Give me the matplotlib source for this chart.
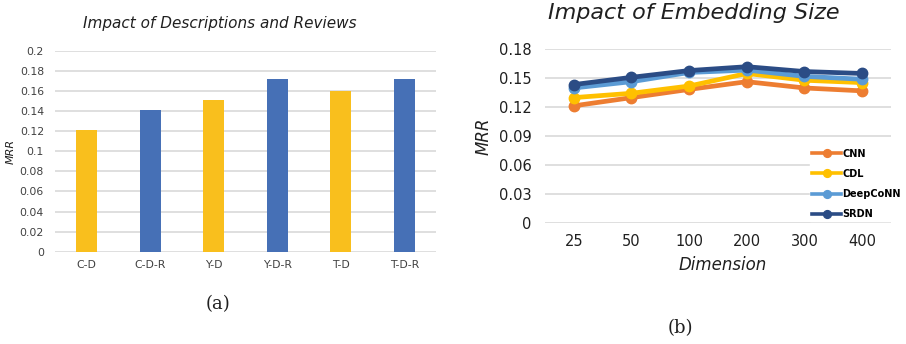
import matplotlib
matplotlib.use("Agg")
import matplotlib.pyplot as plt

# Panel (a): MRR for description / review variants
variants = ["C-D", "C-D-R", "Y-D", "Y-D-R", "T-D", "T-D-R"]
variant_mrr = [0.121, 0.141, 0.151, 0.172, 0.160, 0.172]
variant_uses_reviews = [False, True, False, True, False, True]
bar_yticks = [0, 0.02, 0.04, 0.06, 0.08, 0.1, 0.12, 0.14, 0.16, 0.18, 0.2]
bar_ytick_labels = ["0", "0.02", "0.04", "0.06", "0.08", "0.1", "0.12", "0.14", "0.16", "0.18", "0.2"]

# Panel (b): MRR vs embedding dimension
dimensions = ["25", "50", "100", "200", "300", "400"]
cnn = [0.1215, 0.130, 0.1385, 0.1465, 0.140, 0.137]
cdl = [0.130, 0.1345, 0.142, 0.155, 0.148, 0.1455]
deepconn = [0.140, 0.1465, 0.156, 0.1585, 0.152, 0.149]
srdn = [0.1435, 0.151, 0.158, 0.162, 0.157, 0.155]
line_yticks = [0, 0.03, 0.06, 0.09, 0.12, 0.15, 0.18]
line_ytick_labels = ["0", "0.03", "0.06", "0.09", "0.12", "0.15", "0.18"]

YELLOW = "#F9BF1D"
BLUE = "#4670B6"
GRID = "#D9D9D9"
TICK = "#404040"

fig = plt.figure(figsize=(9.06, 3.44), dpi=100)

# ---- (a) bar chart ----
ax1 = fig.add_axes([0.0607, 0.2683, 0.4205, 0.5843])
xs = range(len(variants))
colors = [BLUE if r else YELLOW for r in variant_uses_reviews]
ax1.bar(xs, variant_mrr, width=0.33, color=colors, zorder=3)
ax1.set_xlim(-0.5, len(variants) - 0.5)
ax1.set_ylim(0, 0.2)
ax1.set_yticks(bar_yticks)
ax1.set_yticklabels(bar_ytick_labels)
ax1.set_xticks(list(xs))
ax1.set_xticklabels(variants)
ax1.tick_params(axis="both", length=0, labelsize=7.8, labelcolor=TICK)
ax1.tick_params(axis="y", pad=8)
ax1.tick_params(axis="x", pad=6)
ax1.grid(axis="y", color=GRID, linewidth=1.2, zorder=0)
for s in ax1.spines.values():
    s.set_visible(False)
ax1.set_ylabel("MRR", fontsize=8, style="italic", color="#202020", labelpad=3)
ax1.set_title("Impact of Descriptions and Reviews", fontsize=11, style="italic",
              color="#202020", pad=16, x=0.432)

# ---- (b) line chart ----
ax2 = fig.add_axes([0.6015, 0.3509, 0.3819, 0.5058])
xi = list(range(len(dimensions)))
series = [
    ("CNN", cnn, "#ED7D31"),
    ("CDL", cdl, "#FFC000"),
    ("DeepCoNN", deepconn, "#5B9BD5"),
    ("SRDN", srdn, "#2B4C85"),
]
for name, vals, c in series:
    ax2.plot(xi, vals, color=c, linewidth=3.4, marker="o", markersize=7.5,
             label=name, zorder=3)
ax2.set_xlim(-0.5, len(dimensions) - 0.5)
ax2.set_ylim(0, 0.18)
ax2.set_yticks(line_yticks)
ax2.set_yticklabels(line_ytick_labels)
ax2.set_xticks(xi)
ax2.set_xticklabels(dimensions)
ax2.tick_params(axis="both", length=0, labelsize=10.5, labelcolor="#202020")
ax2.tick_params(axis="y", pad=9.5)
ax2.tick_params(axis="x", pad=8)
ax2.grid(axis="y", color=GRID, linewidth=1.2, zorder=0)
for s in ax2.spines.values():
    s.set_visible(False)
ax2.set_ylabel("MRR", fontsize=12, style="italic", color="#202020", labelpad=5)
ax2.set_xlabel("Dimension", fontsize=12, style="italic", color="#202020", labelpad=4)
ax2.xaxis.set_label_coords(0.515, -0.19)
ax2.set_title("Impact of Embedding Size", fontsize=16, style="italic",
              color="#202020", pad=22, x=0.43)
leg = ax2.legend(loc="center left", bbox_to_anchor=(0.752, 0.226), frameon=True,
                 fancybox=False, edgecolor="white", facecolor="white", framealpha=1,
                 handlelength=3.0, handletextpad=0.1, labelspacing=1.05,
                 borderpad=0.2, markerscale=0.75,
                 prop={"size": 7, "weight": "bold"})
for line in leg.get_lines():
    line.set_linewidth(2.6)

# ---- subfigure captions ----
fig.text(0.2406, 0.1163, "(a)", fontsize=13, family="DejaVu Serif",
         ha="center", va="center", color="#202020")
fig.text(0.7506, 0.0465, "(b)", fontsize=13, family="DejaVu Serif",
         ha="center", va="center", color="#202020")

fig.savefig("out.png", dpi=100)
